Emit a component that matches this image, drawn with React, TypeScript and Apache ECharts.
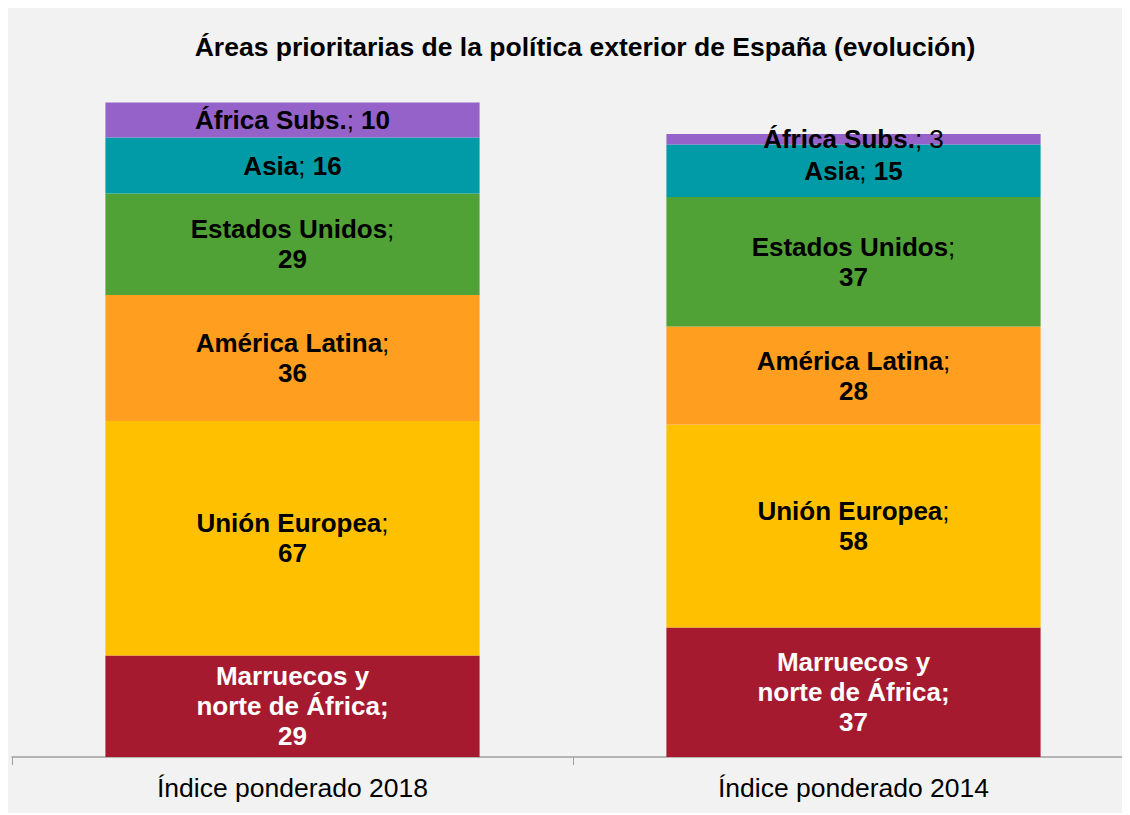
import React, { useEffect, useRef } from "react";
import * as echarts from "echarts";

const categories = ["Índice ponderado 2018", "Índice ponderado 2014"];
const seriesNames = [
  "Marruecos y norte de África",
  "Unión Europea",
  "América Latina",
  "Estados Unidos",
  "Asia",
  "África Subs.",
];
const marruecos = [29, 37];
const unionEuropea = [67, 58];
const americaLatina = [36, 28];
const estadosUnidos = [29, 37];
const asia = [16, 15];
const africaSubs = [10, 3];
const colors = ["#A61A2F", "#FFC000", "#FF9E1F", "#50A236", "#009BA6", "#9462C9"];

const FONT = "Liberation Sans";

function labelFor(si: number, di: number, v: number): string {
  switch (si) {
    case 0:
      return `{w|Marruecos y}\n{w|norte de África;}\n{w|${v}}`;
    case 1:
      return `{b|Unión Europea}{n|;}\n{b|${v}}`;
    case 2:
      return `{b|América Latina}{n|;}\n{b|${v}}`;
    case 3:
      return `{b|Estados Unidos}{n|;}\n{b|${v}}`;
    case 4:
      return `{b|Asia}{n|; }{b|${v}}`;
    default:
      return di === 0 ? `{b|África Subs.}{n|; }{b|${v}}` : `{b|África Subs.}{n|; ${v}}`;
  }
}

export default function App() {
  const ref = useRef<HTMLDivElement>(null);
  useEffect(() => {
    if (!ref.current) return;
    const chart = echarts.init(ref.current, undefined, { renderer: "svg" });
    const data = [marruecos, unionEuropea, americaLatina, estadosUnidos, asia, africaSubs];
    const rich = {
      b: { fontWeight: "bold", fontSize: 26, color: "#000", fontFamily: FONT, lineHeight: 30 },
      n: { fontWeight: "normal", fontSize: 26, color: "#000", fontFamily: FONT, lineHeight: 30 },
      w: { fontWeight: "bold", fontSize: 26, color: "#fff", fontFamily: FONT, lineHeight: 30 },
    };
    chart.setOption({
      animation: false,
      backgroundColor: "#F2F2F2",
      textStyle: { fontFamily: FONT },
      title: {
        text: "Áreas prioritarias de la política exterior de España (evolución)",
        left: 572,
        textAlign: "center",
        top: 20,
        textStyle: { fontFamily: FONT, fontWeight: "bold", fontSize: 26.5, color: "#000" },
      },
      grid: { left: 4, width: 1122, top: 49, height: 700, containLabel: false },
      xAxis: {
        type: "category",
        data: categories,
        axisLine: { lineStyle: { color: "#A0A0A0", width: 1.5 } },
        axisTick: { show: true, length: 8, lineStyle: { color: "#A0A0A0" } },
        axisLabel: { fontFamily: FONT, fontSize: 26.5, color: "#000", margin: 17 },
      },
      yAxis: {
        type: "value",
        min: 0,
        max: 200,
        show: false,
        splitLine: { show: false },
      },
      series: seriesNames.map((name, si) => ({
        name,
        type: "bar",
        stack: "total",
        barWidth: "66.7%",
        data: data[si],
        itemStyle: { color: colors[si] },
        label: {
          show: true,
          position: "inside",
          formatter: (p: any) => labelFor(si, p.dataIndex, p.value),
          rich,
          align: "center",
        },
      })),
    });
    return () => chart.dispose();
  }, []);
  return (
    <div style={{ width: 1122, height: 805, overflow: "hidden" }}>
      <div ref={ref} style={{ width: 1130, height: 805 }} />
    </div>
  );
}
